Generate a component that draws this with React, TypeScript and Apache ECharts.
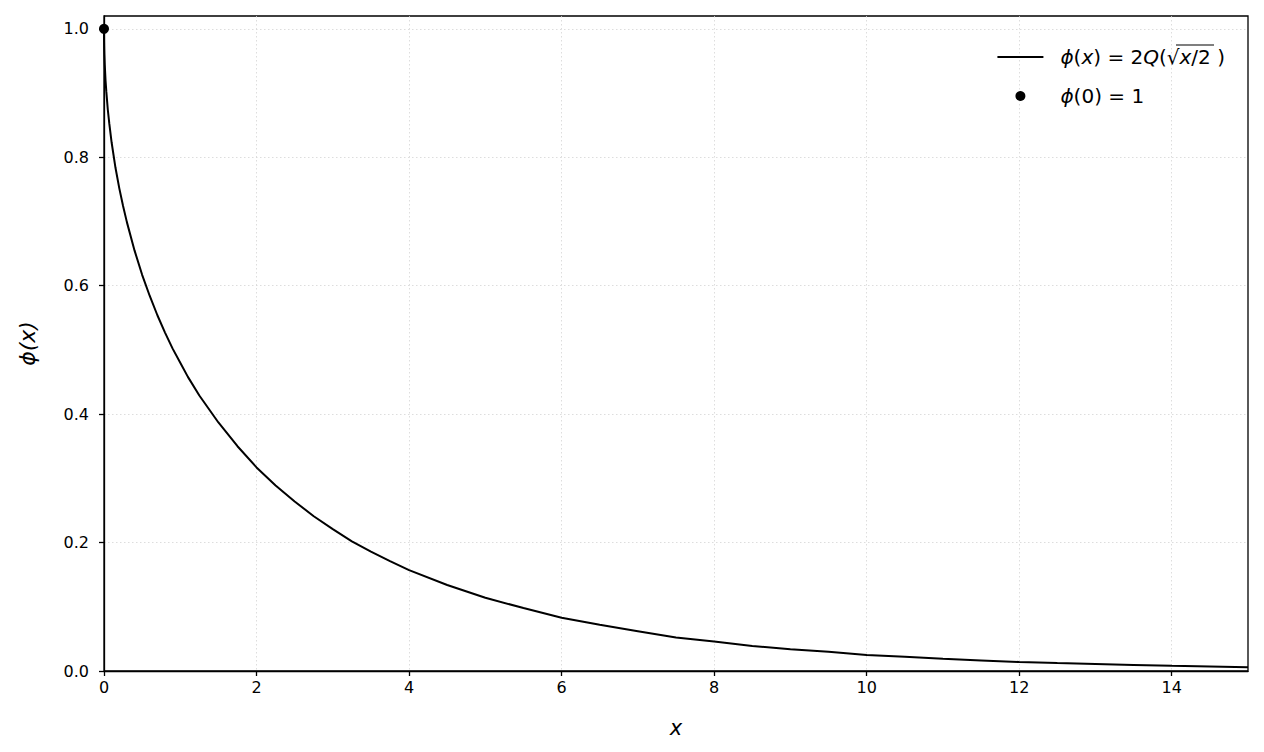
import React, { useEffect, useRef } from "react";
import * as echarts from "echarts";

const xValues = [0, 0.001, 0.002, 0.003, 0.005, 0.01, 0.02, 0.03, 0.05, 0.07, 0.1, 0.15, 0.2, 0.25, 0.3, 0.4, 0.5, 0.6, 0.7, 0.8, 0.9, 1.0, 1.1, 1.25, 1.5, 1.75, 2.0, 2.25, 2.5, 2.75, 3.0, 3.25, 3.5, 3.75, 4.0, 4.5, 5, 5.5, 6, 6.5, 7, 7.5, 8, 8.5, 9, 9.5, 10, 10.5, 11, 11.5, 12, 12.5, 13, 13.5, 14, 14.5, 15];
const phiValues = [1.0, 0.982, 0.975, 0.969, 0.960, 0.944, 0.920, 0.903, 0.874, 0.852, 0.823, 0.784, 0.752, 0.724, 0.699, 0.655, 0.617, 0.584, 0.554, 0.527, 0.502, 0.480, 0.458, 0.429, 0.387, 0.350, 0.317, 0.289, 0.264, 0.241, 0.221, 0.202, 0.186, 0.171, 0.157, 0.134, 0.114, 0.098, 0.083, 0.072, 0.062, 0.052, 0.046, 0.039, 0.034, 0.030, 0.025, 0.022, 0.019, 0.0165, 0.014, 0.0124, 0.011, 0.0095, 0.008, 0.0072, 0.006];
const pointX = [0];
const pointY = [1];
const xTicks = [0, 2, 4, 6, 8, 10, 12, 14];
const yTicks = [0, 0.2, 0.4, 0.6, 0.8, 1.0];
const curveName = "ϕ(x) = 2Q(√x/2)";
const pointName = "ϕ(0) = 1";

const FONT = "DejaVu Sans";

export default function App() {
  const ref = useRef<HTMLDivElement>(null);
  useEffect(() => {
    if (!ref.current) return;
    const chart = echarts.init(ref.current, undefined, { renderer: "svg" });
    const rich = {
      i: { fontFamily: FONT, fontStyle: "italic", fontSize: 20, color: "#000" },
      n: { fontFamily: FONT, fontSize: 20, color: "#000" },
    };
    chart.setOption({
      animation: false,
      backgroundColor: "#fff",
      textStyle: { fontFamily: FONT },
      grid: {
        left: 104, right: 16, top: 16, bottom: 81,
        show: true, borderColor: "#000", borderWidth: 1.3, backgroundColor: "transparent",
      },
      legend: {
        orient: "vertical",
        right: 34,
        top: 42,
        itemWidth: 46,
        itemHeight: 10,
        itemGap: 19,
        data: [
          { name: curveName, icon: "path://M0,0 L46,0 L46,2 L0,2 Z" },
          { name: pointName, icon: "circle" },
        ],
        formatter: (name: string) =>
          name === curveName
            ? "{i|ϕ}{n|(}{i|x}{n|) = 2}{i|Q}{n|(√}{i|x}{n|/2 )}"
            : "{i|ϕ}{n|(0) = 1}",
        textStyle: { rich, padding: [0, 0, 0, 12] },
      },
      graphic: [
        {
          type: "line",
          shape: { x1: 1176, y1: 45, x2: 1214, y2: 45 },
          style: { stroke: "#000", lineWidth: 1.2 },
          z: 100,
        },
      ],
      xAxis: {
        type: "value",
        min: 0,
        max: 15,
        interval: 2,
        name: "x",
        nameLocation: "middle",
        nameGap: 46,
        nameTextStyle: { fontFamily: FONT, fontStyle: "italic", fontSize: 21, color: "#000" },
        axisLine: { show: true, lineStyle: { color: "#000", width: 1.3 } },
        axisTick: { show: true, length: 5, lineStyle: { color: "#000", width: 1.3 }, customValues: xTicks },
        axisLabel: { color: "#000", fontSize: 16, margin: 8, fontFamily: FONT, customValues: xTicks },
        splitLine: { show: true, lineStyle: { color: "#d4d4d4", type: [1.5, 2.5], width: 0.8 } },
      },
      yAxis: {
        type: "value",
        min: 0,
        max: 1.02,
        interval: 0.2,
        name: "ϕ(x)",
        nameLocation: "middle",
        nameGap: 66,
        nameRotate: 90,
        nameTextStyle: { fontFamily: FONT, fontStyle: "italic", fontSize: 22, color: "#000" },
        axisLine: { show: true, lineStyle: { color: "#000", width: 1.3 } },
        axisTick: { show: true, length: 5, lineStyle: { color: "#000", width: 1.3 }, customValues: yTicks },
        axisLabel: {
          color: "#000", fontSize: 16, margin: 15, fontFamily: FONT, customValues: yTicks,
          formatter: (v: number) => v.toFixed(1),
        },
        splitLine: { show: true, lineStyle: { color: "#d4d4d4", type: [1.5, 2.5], width: 0.8 } },
      },
      series: [
        {
          name: curveName,
          type: "line",
          data: xValues.map((x, i) => [x, phiValues[i]]),
          showSymbol: false,
          smooth: false,
          lineStyle: { color: "#000", width: 2 },
          itemStyle: { color: "#000" },
          z: 3,
        },
        {
          name: pointName,
          type: "scatter",
          data: pointX.map((x, i) => [x, pointY[i]]),
          symbolSize: 10,
          itemStyle: { color: "#000", opacity: 1 },
          clip: false,
          z: 4,
        },
      ],
    });
    return () => chart.dispose();
  }, []);
  return (
    <div
      ref={ref}
      style={{ position: "fixed", left: 0, top: 0, width: 1264, height: 752 }}
    />
  );
}
